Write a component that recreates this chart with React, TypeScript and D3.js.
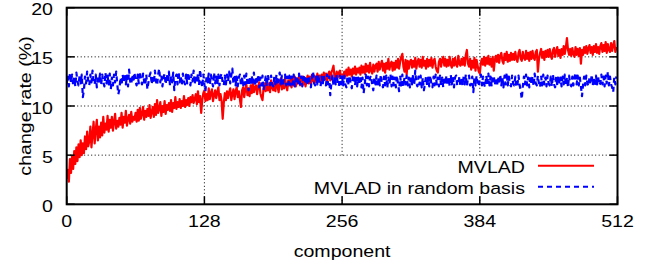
import { useMemo } from "react";
import * as d3 from "d3";

// change rate (%) per component
const mvlad = [
  2.6, 3.5, 2.3, 4.6, 3.2, 4.9, 3.6, 5.4, 4.1, 5.8, 4.4, 6.1, 4.8, 6.5, 5.0, 6.2,
  5.2, 6.9, 5.6, 7.4, 5.9, 6.4, 7.9, 5.8, 7.1, 8.4, 6.2, 7.6, 8.6, 6.5, 7.9, 6.8,
  8.3, 7.0, 8.9, 7.3, 8.2, 7.6, 9.0, 7.4, 8.6, 7.8, 8.9, 7.5, 8.4, 9.2, 7.7, 8.5,
  7.9, 8.8, 8.1, 9.3, 7.8, 8.9, 8.3, 9.5, 8.0, 8.7, 9.1, 8.2, 9.4, 8.4, 8.9, 8.6,
  9.3, 8.4, 9.6, 8.5, 9.8, 8.7, 9.2, 9.9, 8.6, 9.5, 8.9, 9.7, 9.0, 10.1, 8.8, 9.4,
  9.9, 8.9, 10.2, 9.1, 10.6, 9.3, 9.7, 10.4, 9.0, 10.0, 9.4, 10.5, 9.2, 10.1, 9.6, 10.3,
  9.5, 10.6, 9.4, 10.3, 9.8, 10.9, 9.7, 10.4, 9.9, 10.7, 9.8, 10.5, 10.0, 11.0, 9.9, 10.6,
  10.1, 10.8, 10.0, 10.9, 10.4, 11.1, 10.3, 10.7, 11.2, 10.2, 11.5, 10.4, 11.0, 9.3, 10.6, 11.3,
  11.6, 10.5, 11.2, 10.6, 11.8, 10.7, 11.3, 11.7, 10.5, 11.1, 11.6, 10.8, 11.4, 11.9, 10.6, 11.2,
  10.5, 8.7, 10.3, 11.3, 10.6, 11.5, 10.8, 11.4, 11.8, 10.6, 11.2, 11.7, 10.7, 11.5, 11.9, 10.9,
  11.5, 10.7, 9.9, 11.6, 11.9, 10.9, 11.7, 12.2, 11.1, 11.8, 11.0, 12.1, 11.3, 12.3, 11.4, 11.9,
  12.1, 11.2, 12.0, 12.4, 11.3, 10.9, 10.6, 11.8, 12.3, 11.5, 12.5, 11.6, 12.3, 11.4, 12.6, 11.9,
  11.6, 12.5, 11.5, 12.7, 12.0, 11.4, 12.4, 12.8, 11.7, 12.5, 11.8, 12.9, 12.0, 11.6, 12.6, 12.1,
  12.7, 11.9, 12.9, 12.1, 13.0, 12.0, 12.8, 12.3, 13.1, 12.1, 12.6, 13.0, 12.2, 12.9, 12.0, 12.7,
  13.1, 12.3, 13.0, 12.2, 13.2, 12.5, 13.1, 12.4, 12.6, 13.3, 12.5, 13.1, 12.4, 13.2, 12.7, 13.4,
  12.7, 13.3, 12.5, 13.2, 13.5, 12.6, 13.4, 13.7, 14.1, 12.9, 12.8, 13.5, 12.9, 13.4, 13.6, 12.9,
  13.2, 12.9, 13.5, 13.0, 13.7, 13.1, 13.9, 13.2, 13.7, 13.0, 13.8, 13.3, 14.0, 13.2, 13.8, 13.4,
  13.9, 13.2, 14.1, 13.4, 14.0, 13.3, 14.3, 13.5, 14.1, 13.4, 14.4, 13.6, 13.3, 14.2, 13.5, 14.1,
  14.3, 13.5, 14.5, 13.7, 14.2, 14.6, 13.6, 14.3, 13.4, 14.4, 13.8, 14.8, 13.7, 14.3, 14.5, 13.6,
  14.4, 13.7, 14.6, 13.9, 14.8, 13.8, 14.5, 15.0, 15.3, 14.0, 13.5, 14.7, 13.2, 14.6, 13.8, 14.5,
  14.7, 13.9, 14.6, 14.0, 14.9, 13.8, 14.5, 14.8, 14.0, 14.7, 13.9, 15.0, 14.1, 14.6, 13.8, 14.8,
  14.0, 14.7, 14.1, 14.9, 13.9, 14.6, 14.8, 14.0, 13.6, 13.4, 14.5, 14.8, 14.0, 14.7, 15.0, 14.1,
  14.8, 14.0, 14.7, 14.1, 15.0, 14.2, 13.9, 14.8, 14.1, 14.9, 14.2, 14.0, 15.1, 14.3, 14.1, 14.8,
  14.2, 14.9, 14.1, 15.2, 15.7, 14.3, 14.0, 14.8, 13.7, 14.6, 13.9, 14.9, 13.6, 14.7, 14.1, 13.5,
  13.3, 14.4, 14.8, 14.2, 15.0, 14.1, 14.9, 14.3, 15.1, 14.2, 14.8, 14.0, 15.0, 13.6, 14.7, 15.1,
  14.5, 15.2, 14.4, 15.1, 15.4, 14.6, 14.3, 15.3, 14.7, 15.5, 14.5, 15.2, 14.6, 15.4, 14.7, 15.3,
  14.7, 15.5, 14.8, 14.5, 15.4, 15.7, 14.8, 14.6, 15.5, 14.9, 14.7, 15.6, 14.8, 15.4, 14.6, 15.5,
  14.8, 15.6, 14.9, 14.7, 15.5, 15.7, 13.5, 14.8, 15.4, 15.8, 14.9, 15.5, 14.7, 15.6, 15.0, 15.7,
  15.0, 15.8, 15.1, 14.8, 15.7, 15.9, 15.0, 15.6, 16.0, 15.1, 15.7, 14.9, 15.8, 15.2, 16.1, 15.3,
  16.0, 16.9, 15.7, 15.2, 15.8, 15.1, 15.9, 15.3, 15.0, 16.0, 15.2, 15.8, 15.1, 15.9, 14.3, 15.7,
  15.2, 16.0, 15.4, 16.1, 15.3, 15.9, 16.2, 15.4, 16.0, 15.2, 16.1, 15.5, 16.3, 15.4, 16.0, 15.3,
  16.1, 16.4, 15.5, 16.2, 15.6, 16.5, 15.4, 16.3, 15.7, 15.5, 16.4, 15.6, 16.2, 16.6, 15.5, 16.0,
];

const mvladRandom = [
  12.2, 13.1, 12.0, 13.3, 12.4, 13.2, 12.1, 12.9, 12.0, 13.4, 12.5, 12.1, 13.1, 12.3, 13.2, 10.9,
  11.6, 13.0, 12.3, 13.5, 12.6, 12.1, 13.2, 12.4, 13.6, 12.5, 12.2, 13.2, 11.9, 13.1, 12.4, 13.3,
  12.1, 13.2, 12.5, 12.0, 13.4, 12.3, 13.1, 12.2, 13.3, 11.7, 12.9, 12.1, 13.2, 12.4, 13.5, 12.2,
  11.2, 11.7, 12.9, 12.1, 13.2, 12.4, 13.3, 12.2, 13.1, 12.0, 13.7, 12.5, 12.2, 13.2, 12.4, 13.4,
  12.5, 12.1, 13.2, 12.3, 13.5, 12.6, 12.2, 13.3, 12.5, 12.1, 13.2, 11.7, 12.4, 13.1, 13.4, 12.2,
  13.1, 12.3, 13.6, 12.5, 12.1, 13.2, 13.8, 12.4, 13.1, 12.0, 12.9, 13.3, 12.2, 13.2, 12.4, 13.5,
  12.1, 13.1, 12.4, 13.4, 11.6, 12.9, 13.2, 12.2, 13.5, 12.4, 13.1, 12.1, 13.3, 12.5, 12.2, 13.2,
  12.3, 13.4, 12.6, 12.1, 13.2, 12.5, 13.6, 12.2, 13.1, 12.4, 13.3, 12.1, 13.7, 12.5, 11.9, 13.2,
  12.2, 11.5, 13.1, 12.4, 13.3, 12.1, 13.2, 12.5, 12.0, 13.4, 12.3, 13.1, 12.2, 13.2, 12.1, 13.0,
  13.3, 12.3, 12.1, 13.1, 12.2, 13.2, 12.5, 13.5, 12.3, 13.1, 13.8, 12.2, 13.2, 12.1, 13.0, 12.0,
  12.9, 13.2, 12.1, 13.0, 11.9, 13.1, 12.2, 13.3, 12.4, 11.6, 13.0, 12.1, 13.1, 12.2, 13.4, 12.0,
  13.0, 12.2, 13.2, 11.9, 12.9, 12.1, 13.1, 11.6, 12.3, 13.0, 12.0, 13.2, 12.4, 12.1, 13.1, 12.2,
  12.0, 13.0, 12.2, 13.2, 12.1, 12.9, 13.4, 12.2, 13.1, 12.0, 12.9, 13.2, 12.1, 13.0, 12.2, 13.1,
  12.1, 13.0, 12.2, 13.2, 12.0, 12.9, 13.1, 12.1, 13.3, 12.2, 13.0, 12.0, 12.9, 13.2, 12.2, 13.0,
  12.1, 13.1, 12.2, 11.9, 13.0, 13.5, 12.3, 12.1, 13.1, 12.2, 13.2, 12.3, 12.0, 13.0, 12.2, 13.1,
  12.3, 12.1, 13.2, 12.2, 13.0, 11.1, 12.3, 13.1, 12.1, 13.0, 12.2, 13.2, 12.3, 12.0, 13.1, 12.2,
  13.0, 12.1, 13.1, 12.2, 11.9, 13.0, 12.1, 13.1, 12.2, 11.8, 12.9, 13.2, 12.1, 13.0, 12.0, 12.9,
  12.2, 13.1, 11.9, 12.9, 11.3, 12.2, 13.2, 12.1, 13.0, 12.0, 12.9, 13.1, 12.1, 11.6, 12.9, 12.2,
  13.1, 12.0, 12.9, 12.1, 13.2, 12.2, 11.9, 13.0, 12.1, 13.1, 11.8, 12.9, 12.2, 13.2, 12.0, 13.0,
  12.1, 12.9, 11.9, 13.1, 12.2, 11.5, 13.0, 12.1, 13.2, 12.0, 12.9, 12.2, 13.1, 12.1, 12.9, 11.9,
  13.0, 12.2, 13.2, 12.1, 13.6, 12.3, 12.0, 13.0, 12.2, 13.1, 11.9, 12.9, 11.6, 12.2, 13.0, 12.1,
  12.9, 12.0, 13.1, 12.2, 11.9, 13.0, 12.1, 13.2, 12.2, 12.9, 12.0, 13.1, 12.1, 12.9, 11.9, 13.0,
  12.2, 13.1, 12.1, 12.9, 12.0, 13.2, 12.2, 13.0, 11.9, 12.9, 13.1, 12.1, 12.2, 13.0, 12.0, 12.9,
  12.1, 13.0, 12.2, 13.2, 12.0, 12.9, 13.1, 12.1, 12.2, 13.0, 11.4, 12.9, 12.1, 13.1, 12.2, 12.0,
  12.9, 13.2, 12.1, 13.0, 12.2, 11.9, 13.1, 12.2, 13.3, 12.1, 13.0, 12.0, 12.9, 13.1, 12.1, 12.9,
  12.0, 13.0, 12.2, 13.2, 12.1, 12.9, 11.9, 13.1, 12.2, 13.4, 12.1, 13.0, 12.2, 12.0, 13.1, 12.3,
  12.1, 13.0, 11.9, 12.2, 13.1, 12.1, 11.6, 10.7, 12.0, 13.0, 12.2, 13.2, 12.1, 12.9, 11.9, 13.1,
  12.2, 13.0, 12.0, 13.3, 12.3, 12.1, 13.1, 12.2, 11.9, 13.0, 12.1, 13.2, 12.2, 12.9, 12.0, 13.1,
  12.3, 12.1, 13.0, 12.0, 13.2, 12.2, 11.9, 13.0, 12.1, 13.1, 12.2, 12.9, 12.0, 13.0, 12.2, 13.2,
  12.1, 12.9, 11.9, 13.1, 12.2, 12.0, 13.0, 12.1, 12.9, 13.4, 12.2, 13.1, 12.1, 12.9, 12.0, 11.0,
  12.2, 13.0, 12.1, 13.1, 12.3, 12.0, 13.0, 12.2, 13.2, 12.1, 12.9, 12.0, 13.1, 12.2, 13.0, 12.1,
  12.3, 13.2, 12.2, 13.0, 12.0, 13.1, 12.3, 13.5, 12.1, 13.0, 12.2, 11.9, 11.4, 12.9, 12.2, 13.0,
];

const xTicks = [0, 128, 256, 384, 512];
const yTicks = [0, 5, 10, 15, 20];
const seriesNames = ["MVLAD", "MVLAD in random basis"];
const seriesColors = ["#ff0000", "#0000ff"];

const W = 649;
const H = 266;
const FONT = "'Liberation Sans', Arial, Helvetica, sans-serif";
const FS = 17;
const STRETCH = 1.153; // the reference text is wider than plain Helvetica

function Label({ x, y, anchor = "start", rotate = 0, children }: {
  x: number; y: number; anchor?: "start" | "middle" | "end"; rotate?: number; children: React.ReactNode;
}) {
  return (
    <text transform={`translate(${x},${y}) rotate(${rotate}) scale(${STRETCH},1)`} textAnchor={anchor}>
      {children}
    </text>
  );
}

export default function App() {
  const x = d3.scaleLinear().domain([0, 512]).range([66.7, 617.5]);
  const y = d3.scaleLinear().domain([0, 20]).range([204.3, 7.7]);

  const paths = useMemo(() => {
    const line = d3.line<number>().x((_, i) => x(i)).y(d => y(d));
    return [line(mvlad) ?? "", line(mvladRandom) ?? ""];
  }, []);

  const [x0, x1] = x.range();
  const [y0, y1] = y.range();
  const tickLen = 8;

  return (
    <svg width={W} height={H} style={{ position: "absolute", left: 0, top: 0, background: "#fff" }}
      fontFamily={FONT} fontSize={FS}>
      <defs>
        <clipPath id="plot">
          <rect x={x0} y={y1} width={x1 - x0} height={y0 - y1} />
        </clipPath>
      </defs>

      {/* grid */}
      {yTicks.slice(1, -1).map(t => (
        <line key={"gy" + t} x1={x0} x2={x1} y1={y(t)} y2={y(t)} stroke="#000" strokeWidth={1} strokeDasharray="1,2.5" />
      ))}
      {xTicks.slice(1, -1).map(t => (
        <line key={"gx" + t} x1={x(t)} x2={x(t)} y1={y0} y2={y1} stroke="#000" strokeWidth={1} strokeDasharray="1,2.5" />
      ))}

      {/* key background hides the grid behind it */}
      <rect x={305} y={157} width={x1 - 305 - 1} height={38} fill="#fff" />

      <g clipPath="url(#plot)" fill="none" strokeLinejoin="round">
        <path d={paths[0]} stroke={seriesColors[0]} strokeWidth={2.2} />
        <path d={paths[1]} stroke={seriesColors[1]} strokeWidth={2.2} strokeDasharray="5,4" />
      </g>

      {/* ticks, mirrored */}
      {yTicks.map(t => (
        <g key={"ty" + t} stroke="#000" strokeWidth={1.5}>
          <line x1={x0} x2={x0 + tickLen} y1={y(t)} y2={y(t)} />
          <line x1={x1} x2={x1 - tickLen} y1={y(t)} y2={y(t)} />
        </g>
      ))}
      {xTicks.map(t => (
        <g key={"tx" + t} stroke="#000" strokeWidth={1.5}>
          <line x1={x(t)} x2={x(t)} y1={y0} y2={y0 - tickLen} />
          <line x1={x(t)} x2={x(t)} y1={y1} y2={y1 + tickLen} />
        </g>
      ))}

      <rect x={x0} y={y1} width={x1 - x0} height={y0 - y1} fill="none" stroke="#000" strokeWidth={2} />

      {/* tick labels */}
      {yTicks.map(t => (
        <Label key={"ly" + t} x={53} y={y(t) + 7.5} anchor="end">{t}</Label>
      ))}
      {xTicks.map(t => (
        <Label key={"lx" + t} x={x(t)} y={227} anchor="middle">{t}</Label>
      ))}

      <Label x={(x0 + x1) / 2} y={257} anchor="middle">component</Label>
      <Label x={31} y={(y0 + y1) / 2} anchor="middle" rotate={-90}>change rate (%)</Label>

      {/* key */}
      {seriesNames.map((name, i) => {
        const ky = 165.7 + i * 21;
        return (
          <g key={name}>
            <Label x={525} y={ky + 7.6} anchor="end">{name}</Label>
            <line x1={538} x2={594} y1={ky} y2={ky} stroke={seriesColors[i]} strokeWidth={2}
              strokeDasharray={i === 1 ? "5,4" : undefined} />
          </g>
        );
      })}
    </svg>
  );
}
